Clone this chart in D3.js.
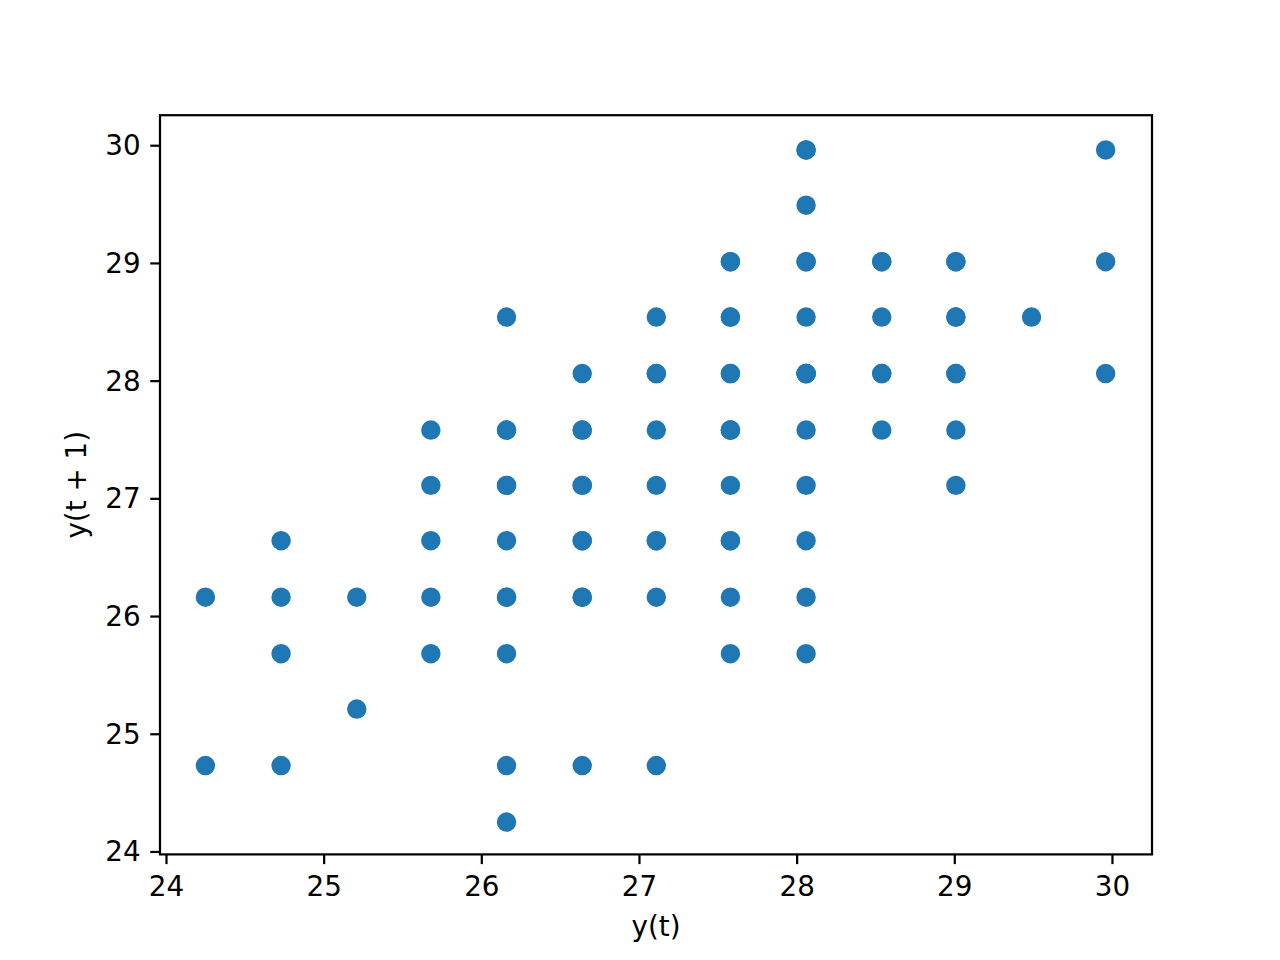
<!doctype html>
<html>

<head>
	<meta charset="UTF-8" />
	<script src="https://d3js.org/d3.v7.min.js"></script>
	<style>
		body { margin: 0; background: #fff; }
		svg text { font-family: "DejaVu Sans", sans-serif; fill: #000; }
	</style>
</head>

<body>
	<svg id="chart" width="1280" height="960"></svg>

	<script>
		// lag pairs: y(t), y(t + 1), and how many times the pair occurs
		const lagX = [
			24.25, 24.25,
			24.73, 24.73, 24.73, 24.73,
			25.21, 25.21,
			25.68, 25.68, 25.68, 25.68, 25.68,
			26.16, 26.16, 26.16, 26.16, 26.16, 26.16, 26.16, 26.16,
			26.64, 26.64, 26.64, 26.64, 26.64, 26.64,
			27.11, 27.11, 27.11, 27.11, 27.11, 27.11, 27.11,
			27.58, 27.58, 27.58, 27.58, 27.58, 27.58, 27.58, 27.58,
			28.06, 28.06, 28.06, 28.06, 28.06, 28.06, 28.06, 28.06, 28.06, 28.06,
			28.54, 28.54, 28.54, 28.54,
			29.01, 29.01, 29.01, 29.01, 29.01,
			29.49,
			29.96, 29.96, 29.96
		];
		const lagY = [
			26.16, 24.73,
			26.64, 26.16, 25.68, 24.73,
			26.16, 25.21,
			27.58, 27.11, 26.64, 26.16, 25.68,
			28.54, 27.58, 27.11, 26.64, 26.16, 25.68, 24.73, 24.25,
			28.06, 27.58, 27.11, 26.64, 26.16, 24.73,
			28.54, 28.06, 27.58, 27.11, 26.64, 26.16, 24.73,
			29.01, 28.54, 28.06, 27.58, 27.11, 26.64, 26.16, 25.68,
			29.96, 29.49, 29.01, 28.54, 28.06, 27.58, 27.11, 26.64, 26.16, 25.68,
			29.01, 28.54, 28.06, 27.58,
			29.01, 28.54, 28.06, 27.58, 27.11,
			28.54,
			29.96, 29.01, 28.06
		];
		const lagCount = [
			1, 1,
			1, 1, 1, 1,
			1, 1,
			1, 1, 1, 1, 1,
			1, 2, 2, 1, 2, 1, 1, 1,
			1, 2, 2, 2, 2, 1,
			1, 2, 1, 1, 2, 1, 1,
			2, 2, 2, 3, 1, 2, 1, 1,
			2, 1, 2, 1, 4, 1, 1, 1, 1, 1,
			2, 1, 2, 1,
			2, 2, 2, 1, 1,
			1,
			1, 1, 1
		];
		const xTicks = [24, 25, 26, 27, 28, 29, 30];
		const yTicks = [24, 25, 26, 27, 28, 29, 30];
		const xDomain = [23.962, 30.254];
		const yDomain = [23.975, 30.255];

		(function () {
			"use strict";

			const svg = d3.select("#chart");
			const margin = { top: 115.2, right: 128, bottom: 105.6, left: 160 };
			const width = 1280 - margin.left - margin.right;
			const height = 960 - margin.top - margin.bottom;
			const fontSize = 27.78;
			const tickLen = 9.72;
			const lineW = 2.22;

			const x = d3.scaleLinear().domain(xDomain).range([0, width]);
			const y = d3.scaleLinear().domain(yDomain).range([height, 0]);

			const g = svg.append("g").attr("transform", `translate(${margin.left},${margin.top})`);

			// expand the pairs so overlapping points stack like in the original
			const points = [];
			lagX.forEach(function (v, i) {
				for (let k = 0; k < lagCount[i]; k++) points.push({ x: v, y: lagY[i] });
			});

			g.append("g").selectAll("circle")
				.data(points)
				.enter().append("circle")
				.attr("cx", function (d) { return x(d.x); })
				.attr("cy", function (d) { return y(d.y); })
				.attr("r", 8.33)
				.attr("fill", "#1f77b4")
				.attr("stroke", "#1f77b4")
				.attr("stroke-width", 2.78);

			// axes frame
			g.append("rect")
				.attr("width", width)
				.attr("height", height)
				.attr("fill", "none")
				.attr("stroke", "#000")
				.attr("stroke-width", lineW);

			const xAxis = g.append("g")
				.attr("transform", `translate(0,${height})`)
				.call(d3.axisBottom(x).tickValues(xTicks).tickFormat(d3.format("d")).tickSize(tickLen).tickPadding(9.72));
			const yAxis = g.append("g")
				.call(d3.axisLeft(y).tickValues(yTicks).tickFormat(d3.format("d")).tickSize(tickLen).tickPadding(9.72));

			[xAxis, yAxis].forEach(function (a) {
				a.select(".domain").remove();
				a.attr("font-family", null).attr("font-size", null);
				a.selectAll(".tick line").attr("stroke", "#000").attr("stroke-width", lineW);
				a.selectAll(".tick text").style("font-size", fontSize + "px").attr("fill", "#000");
			});
			xAxis.selectAll(".tick text").attr("dy", null).attr("y", 41.5);
			yAxis.selectAll(".tick text").attr("dy", null).attr("dominant-baseline", "central").attr("x", -19.4);

			// axis labels
			svg.append("text")
				.attr("x", margin.left + width / 2)
				.attr("y", 936)
				.attr("text-anchor", "middle")
				.style("font-size", fontSize + "px")
				.text("y(t)");

			svg.append("text")
				.attr("transform", `translate(86.4,${margin.top + height / 2}) rotate(-90)`)
				.attr("text-anchor", "middle")
				.style("font-size", fontSize + "px")
				.text("y(t + 1)");
		})();
	</script>
</body>

</html>
